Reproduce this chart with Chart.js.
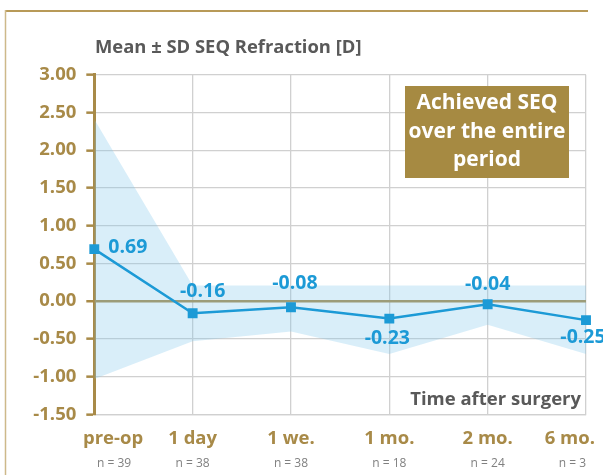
<!DOCTYPE html>
<html>
<head>
<meta charset="utf-8">
<script src="https://cdn.jsdelivr.net/npm/chart.js@4/dist/chart.umd.min.js"></script>
<style>
html, body { margin: 0; padding: 0; background: #fff; }
</style>
</head>
<body>
<canvas id="myChart" width="603" height="475"></canvas>
<script>
// data
var categories = ['pre-op', '1 day', '1 we.', '1 mo.', '2 mo.', '6 mo.'];
var sampleSizes = ['n = 39', 'n = 38', 'n = 38', 'n = 18', 'n = 24', 'n = 3'];
var meanSeq = [0.69, -0.16, -0.08, -0.23, -0.04, -0.25];
var upperSd = [2.41, 0.21, 0.21, 0.21, 0.21, 0.21];
var lowerSd = [-1.03, -0.53, -0.40, -0.70, -0.31, -0.70];
var yMin = -1.5, yMax = 3, yStep = 0.5;

// where each value label sits relative to its point
var labelOffsets = [[14, -2, 'left'], [10, -22, 'center'], [4, -24, 'center'], [-2, 20, 'center'], [0, -20, 'center'], [-3, 17, 'center']];

var gold = '#a88a48';
var grey = '#595959';
var blue = '#1c9ad6';
var gridGrey = '#d0d0d0';
var font = "'Open Sans', sans-serif";

var extras = {
    id: 'extras',
    afterDraw: function(chart) {
        var c = chart.ctx;
        var x = chart.scales.x;
        c.save();

        // frame
        c.strokeStyle = '#b89a58';
        c.lineWidth = 2;
        c.beginPath();
        c.moveTo(5, 11); c.lineTo(588, 11);
        c.stroke();
        c.strokeStyle = '#cdb98a';
        c.lineWidth = 1.5;
        c.beginPath();
        c.moveTo(5.5, 10); c.lineTo(5.5, 475);
        c.stroke();

        // title
        c.fillStyle = grey;
        c.font = 'bold 18.4px ' + font;
        c.textAlign = 'left';
        c.textBaseline = 'middle';
        c.fillText('Mean \u00b1 SD SEQ Refraction [D]', 95, 48);

        // axis title
        c.font = 'bold 18.5px ' + font;
        c.textAlign = 'right';
        c.fillText('Time after surgery', 581, 400);

        // box
        c.fillStyle = '#a68a42';
        c.fillRect(405, 86, 164, 92);
        c.fillStyle = '#fff';
        c.font = 'bold 21px ' + font;
        c.textAlign = 'center';
        c.fillText('Achieved SEQ', 487, 103);
        c.fillText('over the entire', 487, 132);
        c.fillText('period', 487, 160);

        // x labels + n
        categories.forEach(function(lab, i) {
            var px = x.getPixelForValue(i);
            c.font = 'bold 18.5px ' + font;
            c.fillStyle = gold;
            var w = c.measureText(lab).width;
            var cx = Math.min(Math.max(px, 83 + w / 2), 595 - w / 2);
            c.fillText(lab, cx, 439);
            c.font = '12px ' + font;
            c.fillStyle = '#808080';
            w = c.measureText(sampleSizes[i]).width;
            cx = Math.min(Math.max(px, 97 + w / 2), 586 - w / 2);
            c.fillText(sampleSizes[i], cx, 464);
        });

        // value labels
        var meta = chart.getDatasetMeta(0);
        c.font = 'bold 19.5px ' + font;
        c.fillStyle = blue;
        meta.data.forEach(function(pt, i) {
            var o = labelOffsets[i];
            c.textAlign = o[2];
            c.fillText(meanSeq[i].toFixed(2), pt.x + o[0], pt.y + o[1]);
        });
        c.restore();
    }
};

var ctx = document.getElementById('myChart').getContext('2d');
var seqChart = new Chart(ctx, {
    type: 'line',
    data: {
        labels: categories,
        datasets: [{
            label: 'mean',
            data: meanSeq,
            borderColor: blue,
            backgroundColor: blue,
            borderWidth: 2.5,
            pointStyle: 'rect',
            pointRadius: 7,
            pointBorderWidth: 0,
            fill: false,
            tension: 0
        }, {
            label: 'upper',
            data: upperSd,
            borderWidth: 0,
            pointRadius: 0,
            backgroundColor: 'rgba(128, 198, 235, 0.3)',
            fill: '+1'
        }, {
            label: 'lower',
            data: lowerSd,
            borderWidth: 0,
            pointRadius: 0,
            fill: false
        }]
    },
    options: {
        responsive: false,
        animation: false,
        devicePixelRatio: 1,
        layout: { padding: { top: 74.7, right: 17, left: 0, bottom: 0 } },
        plugins: { legend: { display: false }, tooltip: { enabled: false } },
        scales: {
            x: {
                offset: false,
                afterFit: function(s) { s.height = 60.5; },
                ticks: { display: false },
                grid: { color: gridGrey, lineWidth: 1.3, drawTicks: false },
                border: { color: gridGrey, width: 1.3 }
            },
            y: {
                min: yMin,
                max: yMax,
                afterFit: function(s) { s.width = 94.3; },
                ticks: {
                    stepSize: yStep,
                    padding: 10,
                    color: gold,
                    font: { family: font, size: 18.5, weight: 'bold' },
                    callback: function(v) { return v.toFixed(2); }
                },
                grid: {
                    color: function(c) { return c.tick && c.tick.value === 0 ? gold : gridGrey; },
                    lineWidth: function(c) { return c.tick && c.tick.value === 0 ? 2.5 : 1.3; },
                    tickColor: gold,
                    tickLength: 8,
                    tickWidth: 2.5
                },
                border: { color: gold, width: 3 }
            }
        }
    },
    plugins: [extras]
});
</script>
</body>
</html>
